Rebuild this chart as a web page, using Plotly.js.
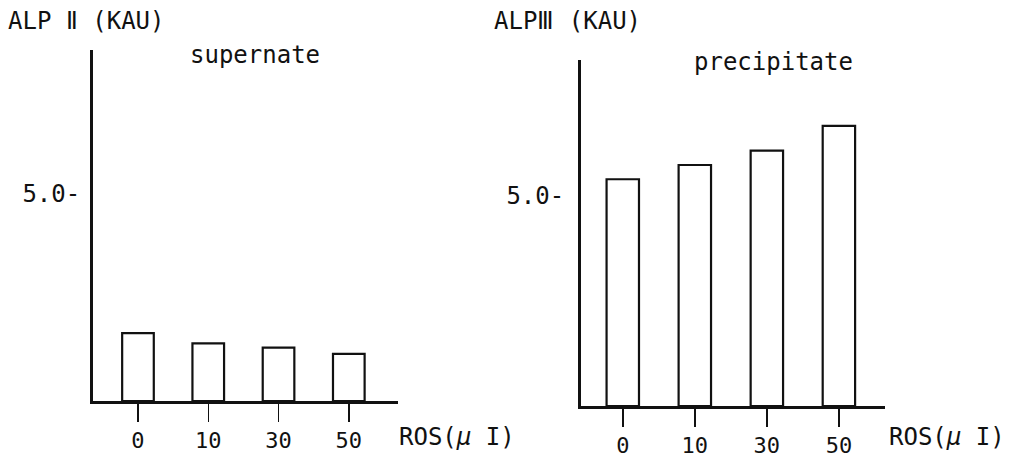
<!DOCTYPE html>
<html>
<head>
<meta charset="utf-8">
<script src="https://cdn.plot.ly/plotly-3.0.1.min.js"></script>
<style>html,body{margin:0;padding:0;background:#fff;}#chart{width:1010px;height:457px;}</style>
</head>
<body>
<div id="chart"></div>
<script>
// Data
const doses = ['0', '10', '30', '50'];
const supernateALP2 = [1.64, 1.39, 1.29, 1.14];
const precipitateALP3 = [5.40, 5.74, 6.08, 6.67];
const yTickVals = [5];
const yTickText = ['5.0-'];
const leftYTitle = 'ALP Ⅱ (KAU)';
const rightYTitle = 'ALPⅢ (KAU)';
const leftPanelName = 'supernate';
const rightPanelName = 'precipitate';
const xUnitLabel = 'ROS(<i>μ</i> I)';

const W = 1010, H = 457;
const px = v => v / W;
const py = v => 1 - v / H;
const FONT = 'DejaVu Sans Mono, Liberation Mono, monospace';
const INK = '#111';

const barStyle = {
  type: 'bar',
  marker: {color: '#ffffff', line: {color: INK, width: 2.2}},
  showlegend: false,
  hoverinfo: 'x+y'
};

const traces = [
  Object.assign({}, barStyle, {x: doses, y: supernateALP2, xaxis: 'x', yaxis: 'y'}),
  Object.assign({}, barStyle, {x: doses, y: precipitateALP3, xaxis: 'x2', yaxis: 'y2'})
];

function xAxis(domain, range, anchor) {
  return {
    domain: domain, range: range, anchor: anchor, type: 'category',
    showline: true, linewidth: 2.5, linecolor: INK,
    ticks: 'outside', ticklen: 18, tickwidth: 1.5, tickcolor: INK,
    tickfont: {family: FONT, size: 22, color: INK},
    showgrid: false, zeroline: false, fixedrange: true
  };
}
function yAxis(domain, range, anchor, standoff) {
  return {
    domain: domain, range: range, anchor: anchor,
    showline: true, linewidth: 3, linecolor: INK,
    tickvals: yTickVals, ticktext: yTickText, ticks: '',
    ticklabelstandoff: standoff,
    tickfont: {family: FONT, size: 24, color: INK},
    showgrid: false, zeroline: false, fixedrange: true
  };
}

const annFont = {family: FONT, size: 24, color: INK};
const layout = {
  width: W, height: H, autosize: false,
  margin: {l: 0, r: 0, t: 0, b: 0},
  paper_bgcolor: '#ffffff', plot_bgcolor: 'rgba(0,0,0,0)',
  bargap: 0.55,
  xaxis: xAxis([px(93), px(398)], [-0.64, 3.7], 'y'),
  yaxis: yAxis([1 - 401 / H, 1 - 50 / H], [0, 8.48], 'x', 5),
  xaxis2: xAxis([px(581), px(885)], [-0.58, 3.64], 'y2'),
  yaxis2: yAxis([1 - 406 / H, 1 - 60 / H], [0, 8.24], 'x2', 9),
  annotations: [
    {text: leftYTitle, x: px(6), y: py(21), xref: 'paper', yref: 'paper', xanchor: 'left', yanchor: 'middle', showarrow: false, font: annFont},
    {text: rightYTitle, x: px(492), y: py(21), xref: 'paper', yref: 'paper', xanchor: 'left', yanchor: 'middle', showarrow: false, font: annFont},
    {text: leftPanelName, x: px(188), y: py(55), xref: 'paper', yref: 'paper', xanchor: 'left', yanchor: 'middle', showarrow: false, font: annFont},
    {text: rightPanelName, x: px(692), y: py(62), xref: 'paper', yref: 'paper', xanchor: 'left', yanchor: 'middle', showarrow: false, font: annFont},
    {text: xUnitLabel, x: px(397), y: py(437), xref: 'paper', yref: 'paper', xanchor: 'left', yanchor: 'middle', showarrow: false, font: annFont},
    {text: xUnitLabel, x: px(887), y: py(437), xref: 'paper', yref: 'paper', xanchor: 'left', yanchor: 'middle', showarrow: false, font: annFont}
  ]
};

Plotly.newPlot('chart', traces, layout, {displayModeBar: false, staticPlot: true});
</script>
</body>
</html>
